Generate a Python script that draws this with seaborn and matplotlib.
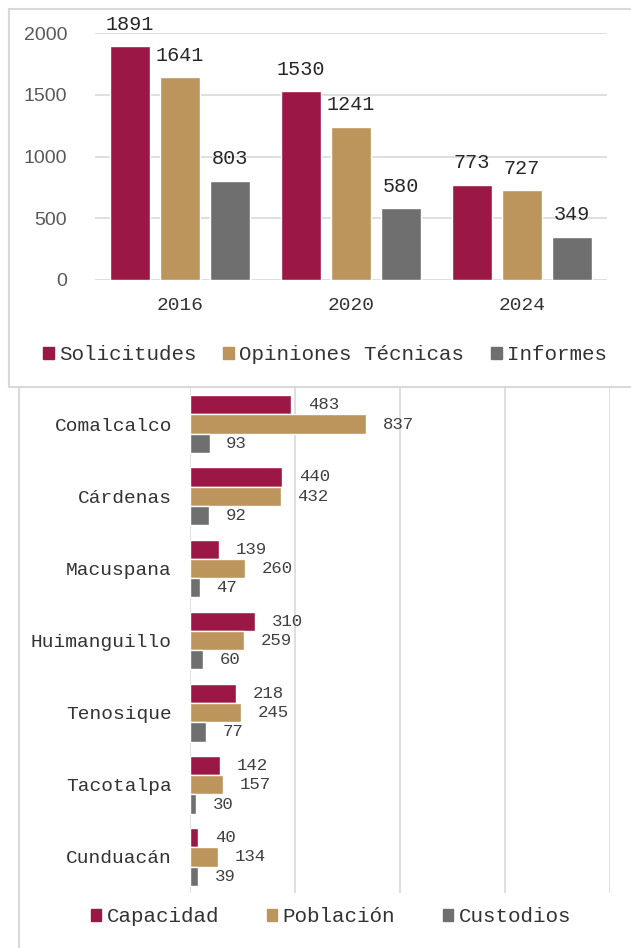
import pandas as pd
import matplotlib.pyplot as plt
import matplotlib.patches as mpatches
from matplotlib.lines import Line2D
import seaborn as sns

# datos del grafico superior
anios = ['2016', '2020', '2024']
solicitudes = [1891, 1530, 773]
opiniones = [1641, 1241, 727]
informes = [803, 580, 349]
series_top = ['Solicitudes', 'Opiniones Técnicas', 'Informes']

# datos del grafico inferior
municipios = ['Comalcalco', 'Cárdenas', 'Macuspana', 'Huimanguillo',
              'Tenosique', 'Tacotalpa', 'Cunduacán']
capacidad = [483, 440, 139, 310, 218, 142, 40]
poblacion = [837, 432, 260, 259, 245, 157, 134]
custodios = [93, 92, 47, 60, 77, 30, 39]
series_bot = ['Capacidad', 'Población', 'Custodios']

colores = ['#9B1746', '#BC955C', '#6F6F6F']
grid_color = '#D9D9D9'
txt_color = '#333333'

sns.set_style('white')
plt.rcParams['font.family'] = ['Liberation Mono', 'DejaVu Sans Mono']

W, H = 631, 948
fig = plt.figure(figsize=(W / 100, H / 100), dpi=100)


def px_axes(left, top, right, bottom):
    return [left / W, 1 - bottom / H, (right - left) / W, (bottom - top) / H]


def px_line(xs, ys, z):
    fig.add_artist(Line2D([x / W for x in xs], [1 - y / H for y in ys],
                          transform=fig.transFigure, color=grid_color,
                          linewidth=1.5, zorder=z))


df_top = pd.DataFrame({
    'anio': anios * 3,
    'serie': [s for s in series_top for _ in anios],
    'valor': solicitudes + opiniones + informes,
})
df_bot = pd.DataFrame({
    'municipio': municipios * 3,
    'serie': [s for s in series_bot for _ in municipios],
    'valor': capacidad + poblacion + custodios,
})

# --- grafico inferior (barras horizontales) ---
ax2 = fig.add_axes(px_axes(190, 388, 610, 893), zorder=0)
sns.barplot(data=df_bot, y='municipio', x='valor', hue='serie', orient='h',
            order=municipios, hue_order=series_bot, palette=colores,
            saturation=1, width=0.8, legend=False, ax=ax2)
ax2.set_xlim(0, 2000)
ax2.set_xticks([0, 500, 1000, 1500, 2000])
ax2.set_xticklabels([])
ax2.set_axisbelow(True)
ax2.grid(axis='x', color=grid_color, linewidth=1.2)
ax2.grid(axis='y', visible=False)
for s in ax2.spines.values():
    s.set_visible(False)
ax2.set_xlabel('')
ax2.set_ylabel('')
ax2.tick_params(axis='both', length=0)
ax2.tick_params(axis='y', pad=13, labelsize=14, labelcolor=txt_color)
for c in ax2.containers:
    ax2.bar_label(c, padding=12, fontsize=12.5, color='#404040')

ax2.legend(handles=[mpatches.Patch(color=c) for c in colores], labels=series_bot,
           loc='center', bbox_to_anchor=(331 / W, 1 - 917 / H),
           bbox_transform=fig.transFigure, ncol=3, frameon=False,
           fontsize=15, handlelength=0.5, handleheight=0.5,
           handletextpad=0.25, columnspacing=2.3, labelcolor=txt_color)

# marco del grafico inferior (solo el borde izquierdo es visible)
px_line([19, 19], [385, 948], 0.5)

# marco del grafico superior: fondo blanco y bordes
fig.add_artist(mpatches.Rectangle((9 / W, 1 - 387 / H), (W - 9) / W, (387 - 9) / H,
                                  transform=fig.transFigure, facecolor='white',
                                  edgecolor='none', zorder=1))
px_line([9, W], [9, 9], 1.1)
px_line([9, 9], [9, 387], 1.1)
px_line([9, W], [387, 387], 1.1)

# --- grafico superior (barras verticales) ---
ax1 = fig.add_axes(px_axes(95, 33, 607, 280), zorder=2)
ax1.set_facecolor('none')
sns.barplot(data=df_top, x='anio', y='valor', hue='serie', order=anios,
            hue_order=series_top, palette=colores, saturation=1,
            width=0.88, gap=0.2, legend=False, ax=ax1)
ax1.set_ylim(0, 2000)
ax1.set_yticks([0, 500, 1000, 1500, 2000])
ax1.set_axisbelow(True)
ax1.grid(axis='y', color=grid_color, linewidth=1.2)
ax1.grid(axis='x', visible=False)
for s in ax1.spines.values():
    s.set_visible(False)
ax1.set_xlabel('')
ax1.set_ylabel('')
ax1.tick_params(axis='both', length=0)
ax1.tick_params(axis='x', pad=12, labelsize=14, labelcolor=txt_color)
ax1.tick_params(axis='y', pad=20, labelsize=14, labelcolor='#595959')
for lab in ax1.get_yticklabels():
    lab.set_fontfamily('Liberation Sans')
for c in ax1.containers:
    ax1.bar_label(c, padding=9, fontsize=14.5, color='#262626')

ax1.legend(handles=[mpatches.Patch(color=c) for c in colores], labels=series_top,
           loc='center', bbox_to_anchor=(325 / W, 1 - 355 / H),
           bbox_transform=fig.transFigure, ncol=3, frameon=False,
           fontsize=15, handlelength=0.5, handleheight=0.5,
           handletextpad=0.25, columnspacing=1.3, labelcolor=txt_color)

fig.savefig('out.png', dpi=100)
